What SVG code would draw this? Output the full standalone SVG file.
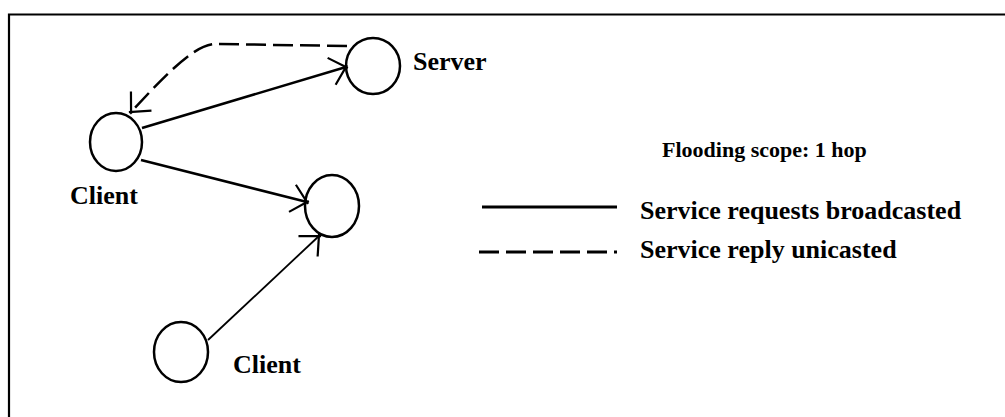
<svg xmlns="http://www.w3.org/2000/svg" width="1005" height="417" viewBox="0 0 1005 417">
  <style>
    .node { fill: none; stroke: #000; stroke-width: 2.5; }
    .lbl { font-family: "Liberation Serif", "Times New Roman", serif; font-weight: bold; font-size: 26px; fill: #000; }
    .req { fill: none; stroke: #000; stroke-width: 2.5; marker-end: url(#barb); }
    .rep { fill: none; stroke: #000; stroke-width: 2.5; stroke-dasharray: 20 7; marker-end: url(#barb); }
    .key-solid { fill: none; stroke: #000; stroke-width: 3; }
    .key-dash { fill: none; stroke: #000; stroke-width: 3; stroke-dasharray: 20 7; }
  </style>
  <defs>
    <!-- open hand-drawn style arrowhead; strokes cross slightly at the tip -->
    <marker id="barb" markerUnits="userSpaceOnUse" orient="auto" markerWidth="40" markerHeight="40" refX="0" refY="0" viewBox="-20 -20 40 40" overflow="visible">
      <path d="M-15,-14 L1.5,1.5 M-15,14 L1.5,-1.5" fill="none" stroke="#000" stroke-width="2.2" stroke-dasharray="none"/>
    </marker>
  </defs>

  <rect width="1005" height="417" fill="#fff"/>
  <!-- frame: only top and left edges fall inside the canvas -->
  <path d="M9,417 V14.5 H1005" fill="none" stroke="#000" stroke-width="2.2"/>

  <g id="connectors">
    <path class="req" d="M142,128 L346,67"/>
    <path class="req" d="M141,160 L307,202"/>
    <path class="req" style="stroke-width:1.8" d="M208,340 L319,236"/>
    <path class="rep" d="M347,46 L215,44 C195,45 170,70 131,112"/>
  </g>

  <g id="client-a">
    <ellipse class="node" cx="116" cy="142" rx="26" ry="29"/>
    <text class="lbl" x="70" y="204">Client</text>
  </g>

  <g id="server">
    <ellipse class="node" cx="373" cy="66" rx="27" ry="28"/>
    <text class="lbl" x="413" y="70">Server</text>
  </g>

  <g id="peer">
    <ellipse class="node" cx="332" cy="206" rx="27" ry="31"/>
  </g>

  <g id="client-b">
    <ellipse class="node" cx="181" cy="352" rx="27" ry="30"/>
    <text class="lbl" x="233" y="373">Client</text>
  </g>

  <g id="legend">
    <text class="lbl" x="662" y="157" style="font-size:22px">Flooding scope: 1 hop</text>
    <path class="key-solid" d="M482,207 H617"/>
    <text class="lbl" x="640" y="219">Service requests broadcasted</text>
    <path class="key-dash" d="M479,252 H617"/>
    <text class="lbl" x="640" y="258">Service reply unicasted</text>
  </g>
</svg>
